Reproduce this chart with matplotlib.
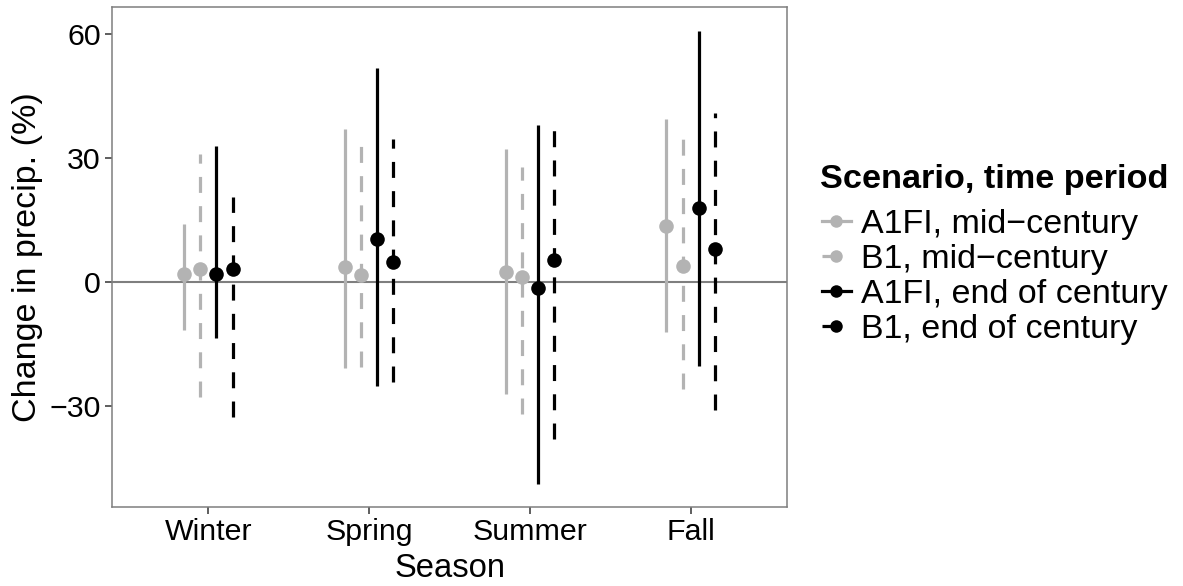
import matplotlib
matplotlib.use("Agg")
import matplotlib.pyplot as plt
from matplotlib.lines import Line2D
import numpy as np

plt.rcParams['font.family'] = ['Liberation Sans', 'DejaVu Sans']

seasons = ["Winter", "Spring", "Summer", "Fall"]
groups = ["A1FI, mid\u2212century", "B1, mid\u2212century",
          "A1FI, end of century", "B1, end of century"]

# central estimate, lower and upper bound per group (Winter, Spring, Summer, Fall)
mid_a1fi = [1.9, 3.6, 2.4, 13.5]
lo_a1fi_mid = [-11.7, -20.9, -27.1, -12.2]
hi_a1fi_mid = [13.9, 37.0, 32.2, 39.4]

mid_b1 = [3.2, 1.6, 1.2, 3.9]
lo_b1_mid = [-28.0, -20.6, -32.1, -25.9]
hi_b1_mid = [31.0, 33.5, 27.9, 34.8]

end_a1fi = [1.8, 10.3, -1.4, 17.9]
lo_a1fi_end = [-13.7, -25.2, -49.1, -20.4]
hi_a1fi_end = [32.9, 51.8, 38.0, 60.9]

end_b1 = [3.2, 4.9, 5.3, 7.9]
lo_b1_end = [-32.7, -24.3, -38.2, -31.1]
hi_b1_end = [20.6, 34.5, 36.8, 41.0]

centers = [mid_a1fi, mid_b1, end_a1fi, end_b1]
lows = [lo_a1fi_mid, lo_b1_mid, lo_a1fi_end, lo_b1_end]
highs = [hi_a1fi_mid, hi_b1_mid, hi_a1fi_end, hi_b1_end]

GRAY = '#b3b3b3'
colors = [GRAY, GRAY, 'black', 'black']
dash = (0, (5, 4.15))
styles = ['solid', dash, 'solid', dash]
offsets = [-0.15, -0.05, 0.05, 0.15]

W, H = 1183, 586
fig = plt.figure(figsize=(W / 100, H / 100), dpi=100)
ax = fig.add_axes([112 / W, 1 - 507 / H, 675 / W, 500 / H])

xs = np.arange(1, len(seasons) + 1)
ax.axhline(0, color='#7f7f7f', lw=1.5, zorder=1)
for i in range(4):
    x = xs + offsets[i]
    ax.vlines(x, lows[i], highs[i], colors=colors[i], linestyles=styles[i],
              linewidth=2.3, zorder=2)
for i in range(4):
    ax.plot(xs + offsets[i], centers[i], 'o', color=colors[i], markersize=10.5,
            markeredgewidth=0, zorder=3)

ax.set_xlim(0.4, 4.6)
ax.set_ylim(-54.6, 66.6)
ax.set_xticks(xs)
ax.set_xticklabels(seasons)
ax.set_yticks([-30, 0, 30, 60])
ax.tick_params(axis='both', length=5, width=1.1, color='#333333',
               labelsize=21.9, pad=3, labelcolor='black')
for sp in ax.spines.values():
    sp.set_color('#7f7f7f')
    sp.set_linewidth(1.1)

fig.text(450 / W, 1 - 577 / H, "Season", ha='center', va='baseline', fontsize=23.6)
fig.text(28 / W, 1 - 257 / H, "Change in precip. (%)", rotation=90,
         ha='center', va='center', fontsize=24.5)

# legend title drawn on its own so the gap under it can match
fig.text(820 / W, 1 - 188 / H, "Scenario, time period", ha='left',
         va='baseline', fontsize=24.7, fontweight='bold')
handles = [Line2D([0], [0], color=colors[i], linestyle=styles[i], lw=2.3,
                  marker='o', markersize=9, markeredgewidth=0)
           for i in range(4)]
leg = fig.legend(handles, groups, loc='upper left',
                 bbox_to_anchor=(822 / W, 1 - 209 / H), frameon=False,
                 fontsize=24.5, handlelength=0.85, handletextpad=0.3,
                 labelspacing=0.12, borderpad=0, borderaxespad=0)

fig.savefig("out.png", dpi=100)
